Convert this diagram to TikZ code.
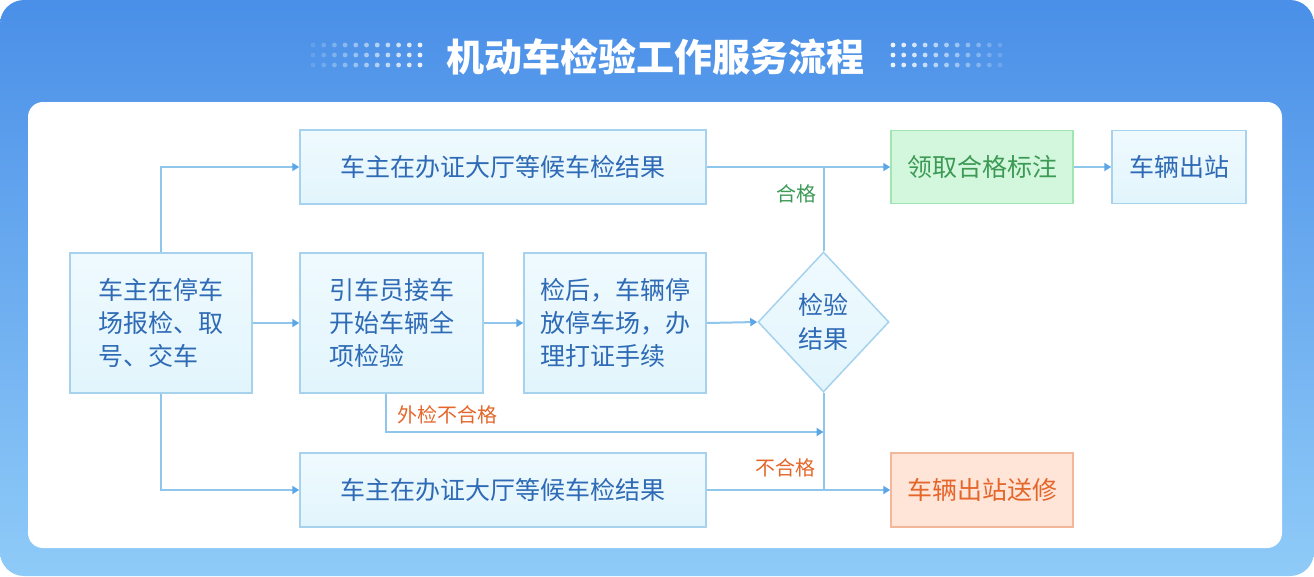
\documentclass[tikz,border=0pt]{standalone}
\usepackage{fontspec}
\newfontfamily\cjk{Noto Sans CJK SC}
\usetikzlibrary{shapes.geometric,arrows.meta,calc}
\definecolor{bgtop}{HTML}{4A8FE8}
\definecolor{bgbot}{HTML}{8FCBF8}
\definecolor{boxline}{HTML}{A6D2EE}
\definecolor{boxtop}{HTML}{EFFAFE}
\definecolor{boxbot}{HTML}{E2F5FC}
\definecolor{txtblue}{HTML}{2E6AB5}
\definecolor{conn}{HTML}{8EC6EC}
\definecolor{tipc}{HTML}{5AA6E6}
\definecolor{gfill}{HTML}{D3F7DD}
\definecolor{gline}{HTML}{A0E5B2}
\definecolor{gtext}{HTML}{3C9A55}
\definecolor{ofill}{HTML}{FFE4D8}
\definecolor{oline}{HTML}{F5B79C}
\definecolor{otext}{HTML}{E4662A}
\begin{document}
\begin{tikzpicture}[x=1pt,y=-1pt,
  box/.style={draw=boxline, line width=1.5pt, top color=boxtop, bottom color=boxbot,
    inner sep=0pt, font=\cjk\fontsize{25}{33}\selectfont, text=txtblue, align=left},
  gbox/.style={box, draw=gline, top color=gfill, bottom color=gfill, text=gtext},
  obox/.style={box, draw=oline, top color=ofill, bottom color=ofill, text=otext},
  dia/.style={diamond, draw=boxline, line width=1.5pt, top color=boxtop, bottom color=boxbot,
    inner sep=0pt, font=\cjk\fontsize{25}{34}\selectfont, text=txtblue, align=center},
  flowplain/.style={draw=conn, line width=2pt},
  flow/.style={flowplain, -{Triangle[length=7pt,width=8pt,color=tipc]}},
  lab/.style={font=\cjk\fontsize{20}{24}\selectfont, inner sep=0pt}]
\useasboundingbox (0,0) rectangle (1314,576);
\fill[white] (0,0) rectangle (1314,576);
\shade[top color=bgtop,bottom color=bgbot,rounded corners=24pt] (0,0) rectangle (1314,576);
\fill[white, rounded corners=15pt] (28,102) rectangle (1282,548);
% dot grids
\foreach \i in {0,...,10}{
  \pgfmathsetmacro\opl{0.12+0.075*\i}
  \pgfmathsetmacro\opr{0.9-0.075*\i}
  \foreach \j in {45,55,65}{
    \fill[white, opacity=\opl] (313+10.7*\i,\j) circle[radius=2.4];
    \fill[white, opacity=\opr] (893+10.7*\i,\j) circle[radius=2.4];
  }
}
\node[font=\cjk\bfseries\fontsize{38}{38}\selectfont, text=white, inner sep=0pt] (title) at (655,57) {机动车检验工作服务流程};
% nodes
\node[box, minimum width=182pt, minimum height=140pt] (A) at (161,323) {车主在停车\\场报检、取\\号、交车};
\node[box, minimum width=183pt, minimum height=140pt] (B) at (391.5,323) {引车员接车\\开始车辆全\\项检验};
\node[box, minimum width=182pt, minimum height=140pt] (C) at (615,323) {检后，车辆停\\放停车场，办\\理打证手续};
\node[dia, minimum width=131pt, minimum height=140pt] (D) at (823.5,322) {检验\\结果};
\node[box, minimum width=406pt, minimum height=74pt] (T) at (503,167) {车主在办证大厅等候车检结果};
\node[box, minimum width=406pt, minimum height=74pt] (Bt) at (503,490) {车主在办证大厅等候车检结果};
\node[gbox, minimum width=182pt, minimum height=73pt] (G) at (982,167) {领取合格标注};
\node[box, minimum width=134pt, minimum height=73pt] (E) at (1179,167) {车辆出站};
\node[obox, minimum width=182pt, minimum height=74pt] (O) at (982,490) {车辆出站送修};
% connectors
\draw[flow] (A.north) |- (T.west);
\draw[flow] (A.south) |- (Bt.west);
\draw[flow] (A.east) -- (B.west);
\draw[flow] (B.east) -- (C.west);
\draw[flow] (C.east) -- (D.west);
\draw[flow] (T.east) -- (G.west);
\draw[flowplain] (D.north) -- (D.north |- T.east);
\draw[flow] (Bt.east) -- (O.west);
\draw[flowplain] (D.south) -- (D.south |- Bt.east);
\draw[flow] (G.east) -- (E.west);
\coordinate (bx) at ([xshift=-5.5pt]B.south);
\coordinate (fj) at (823.5,432);
\draw[flow] (bx) |- (fj);
% labels
\node[lab, text=gtext] (l1) at (796.5,194) {合格};
\node[lab, text=otext] (l2) at (447.5,415) {外检不合格};
\node[lab, text=otext] (l3) at (785.5,468) {不合格};
\end{tikzpicture}
\end{document}
